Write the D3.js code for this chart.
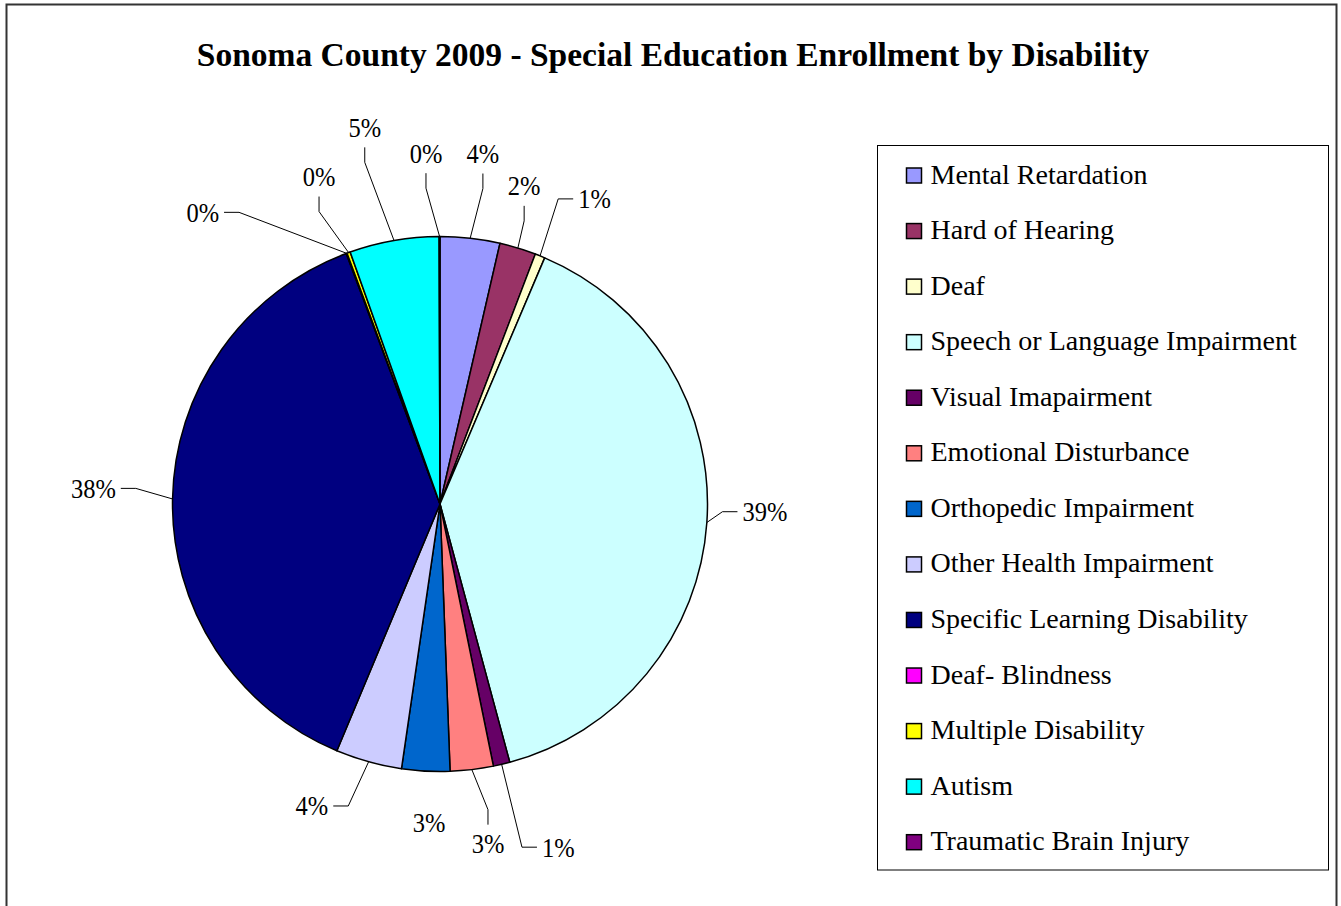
<!DOCTYPE html>
<html>
<head>
<meta charset="utf-8">
<script src="https://cdn.jsdelivr.net/npm/d3@7/dist/d3.min.js"></script>
<style>
  html, body { margin: 0; padding: 0; background: #fff; }
  svg { display: block; }
  text { font-family: "Liberation Serif", "Times New Roman", serif; fill: #000; }
</style>
</head>
<body>
<svg id="chart" width="1341" height="906"></svg>
<script>
// Special education enrollment share by disability (percent of total)
const categories = [
  "Mental Retardation", "Hard of Hearing", "Deaf", "Speech or Language Impairment",
  "Visual Imapairment", "Emotional Disturbance", "Orthopedic Impairment",
  "Other Health Impairment", "Specific Learning Disability", "Deaf- Blindness",
  "Multiple Disability", "Autism", "Traumatic Brain Injury"
];
const shares = [3.6, 2.2, 0.6, 39.4, 1.0, 2.6, 2.9, 4.0, 38.0, 0.05, 0.2, 5.4, 0.05];
const colors = [
  "#9999FF", "#993366", "#FFFFCC", "#CCFFFF", "#660066", "#FF8080", "#0066CC",
  "#CCCCFF", "#000080", "#FF00FF", "#FFFF00", "#00FFFF", "#800080"
];
const title = "Sonoma County 2009 - Special Education Enrollment by Disability";

// Label placement around the pie: angle shift (deg) from slice middle,
// distance of label centre from pie centre, and leader style.
const labelLayout = [
  [0.5, 353, "v"], [-2.1, 329, "v"], [4.9, 342, "h"], [-2.6, 325, "h"],
  [-5.7, 363, "h"], [-1.2, 343, "v"], [-1.1, 319, null], [7.5, 328, "h"],
  [1.5, 347, "h"], [-18.7, 376, "h"], [-0.3, 349, "v"], [-1.4, 384, "v"],
  [-2.2, 351, "v"]
];

const svg = d3.select("#chart");

// outer chart frame
svg.append("rect")
  .attr("x", 6.5).attr("y", 4.5).attr("width", 1330).attr("height", 930)
  .attr("fill", "#fff").attr("stroke", "#333").attr("stroke-width", 2);

svg.append("text")
  .attr("x", 673).attr("y", 66)
  .attr("text-anchor", "middle")
  .attr("font-weight", "bold")
  .attr("font-size", 33.5)
  .text(title);

// ---- pie ----
const cx = 440, cy = 504, R = 267.5;
const data = categories.map((c, i) => ({ name: c, value: shares[i], color: colors[i], i }));
const total = d3.sum(shares);

const pie = d3.pie().sort(null).value(d => d.value).startAngle(0).endAngle(2 * Math.PI);
const arcs = pie(data);
const arc = d3.arc().innerRadius(0).outerRadius(R);

const g = svg.append("g").attr("transform", `translate(${cx},${cy})`);
g.selectAll("path.slice")
  .data(arcs)
  .join("path")
  .attr("class", "slice")
  .attr("d", arc)
  .attr("fill", d => d.data.color)
  .attr("stroke", "#000")
  .attr("stroke-width", 1.5)
  .attr("stroke-linejoin", "round");

// ---- percentage labels with leader lines ----
const fmt = v => Math.round(v / total * 100) + "%";
const polar = (ang, r) => [Math.sin(ang) * r, -Math.cos(ang) * r];
const labelSize = 28, labelSqueeze = 0.875;   // narrow, tall label glyphs
const leaders = g.append("g");
const labels = g.append("g");

arcs.forEach((a, k) => {
  const [dAng, dist, style] = labelLayout[k];
  const mid = (a.startAngle + a.endAngle) / 2;
  const [lx, ly] = polar(mid + dAng * Math.PI / 180, dist);
  const t = labels.append("text")
    .attr("transform", `translate(${lx},${ly}) scale(${labelSqueeze},1)`)
    .attr("y", labelSize * 0.34)
    .attr("text-anchor", "middle")
    .attr("font-size", labelSize)
    .text(fmt(a.data.value));
  if (!style) return;
  const b = t.node().getBBox();
  const left = lx + b.x * labelSqueeze, right = lx + (b.x + b.width) * labelSqueeze;
  const top = ly + b.y, bottom = ly + b.y + b.height;
  const padX = 5, padY = 4, tail = 15;
  const edge = polar(mid, R);
  let attach, elbow;
  if (style === "v") {
    if (ly < 0) { attach = [lx, bottom + padY]; elbow = [lx, attach[1] + tail]; }
    else { attach = [lx, top - padY]; elbow = [lx, attach[1] - tail]; }
  } else {
    if (lx < 0) { attach = [right + padX, ly]; elbow = [attach[0] + tail, ly]; }
    else { attach = [left - padX, ly]; elbow = [attach[0] - tail, ly]; }
  }
  leaders.append("polyline")
    .attr("points", [edge, elbow, attach].map(p => p.join(",")).join(" "))
    .attr("fill", "none")
    .attr("stroke", "#000")
    .attr("stroke-width", 1);
});

// ---- legend ----
const legX = 877.5, legY = 145.5, legW = 451, legH = 724.5;
const legend = svg.append("g");
legend.append("rect")
  .attr("x", legX).attr("y", legY).attr("width", legW).attr("height", legH)
  .attr("fill", "#fff").attr("stroke", "#000").attr("stroke-width", 1);

const rowY = d3.scalePoint().domain(categories).range([175.5, 842.2]);
const rows = legend.selectAll("g.row")
  .data(data)
  .join("g")
  .attr("class", "row")
  .attr("transform", d => `translate(0,${rowY(d.name)})`);
rows.append("rect")
  .attr("x", 906.5).attr("y", -7.5).attr("width", 15).attr("height", 15)
  .attr("fill", d => d.color)
  .attr("stroke", "#000").attr("stroke-width", 1.5);
rows.append("text")
  .attr("x", 930.5).attr("y", 8)
  .attr("font-size", 28)
  .text(d => d.name);
</script>
</body>
</html>
